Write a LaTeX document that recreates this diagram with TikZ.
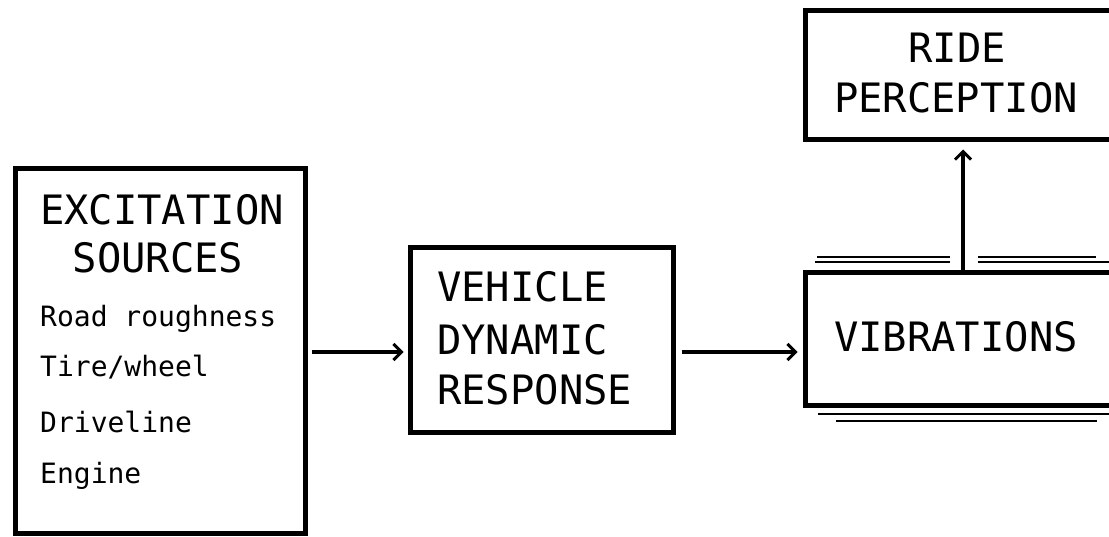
\documentclass[tikz,border=0pt]{standalone}
\usepackage{fontspec}
\setmainfont{DejaVu Sans Mono}
\usetikzlibrary{arrows.meta}
\begin{document}
\begin{tikzpicture}[x=1pt,y=-1pt,
  box/.style={draw,line width=5pt,rectangle,inner sep=0pt},
  big/.style={font=\fontsize{40.5}{44}\selectfont,inner sep=0pt},
  small/.style={font=\fontsize{28}{34}\selectfont,inner sep=0pt,anchor=base west},
  conn/.style={line width=4pt,-{Straight Barb[length=8pt,width=16pt,line width=3pt]}},
  deco/.style={line width=1.8pt}]
\useasboundingbox (0,0) rectangle (1109,537);
\clip (0,0) rectangle (1109,537);
% boxes
\node[box,minimum width=290pt,minimum height=364pt] (exc) at (160,351) {};
\node[box,minimum width=263pt,minimum height=184pt] (veh) at (541.5,340) {};
\node[box,minimum width=320pt,minimum height=129pt] (ride) at (965,75.5) {};
\node[box,minimum width=320pt,minimum height=132pt] (vib) at (965,339) {};
% texts
\node[big,anchor=base] (t1) at (162,225) {EXCITATION};
\node[big,anchor=base] (t2) at (158,273) {SOURCES};
\node[small] (t3) at (40,327) {Road roughness};
\node[small] (t4) at (40,377) {Tire/wheel};
\node[small] (t5) at (40,432) {Driveline};
\node[small] (t6) at (40,483) {Engine};
\node[big,anchor=base west] (v1) at (437,302) {VEHICLE};
\node[big,anchor=base west] (v2) at (437,355) {DYNAMIC};
\node[big,anchor=base west] (v3) at (437,405) {RESPONSE};
\node[big,anchor=base] (r1) at (957,63) {RIDE};
\node[big,anchor=base] (r2) at (956,113) {PERCEPTION};
\node[big,anchor=base] (b1) at (956,352) {VIBRATIONS};
% connectors
\draw[conn] ([xshift=4pt]exc.east |- 0,352) -- ([xshift=-4pt]veh.west |- 0,352);
\draw[conn] ([xshift=6pt]veh.east |- 0,352) -- ([xshift=-5pt]vib.west |- 0,352);
\draw[conn] (963,0 |- vib.north) -- ([yshift=-7pt]963,0 |- ride.south);
% decorative double lines
\draw[deco] (817,257) -- (950,257);
\draw[deco] (815,262) -- (950,262);
\draw[deco] (978,257) -- (1096,257);
\draw[deco] (978,262) -- (1109,262);
\draw[deco] (818,414) -- (1109,414);
\draw[deco] (836,421) -- (1097,421);
\end{tikzpicture}
\end{document}
